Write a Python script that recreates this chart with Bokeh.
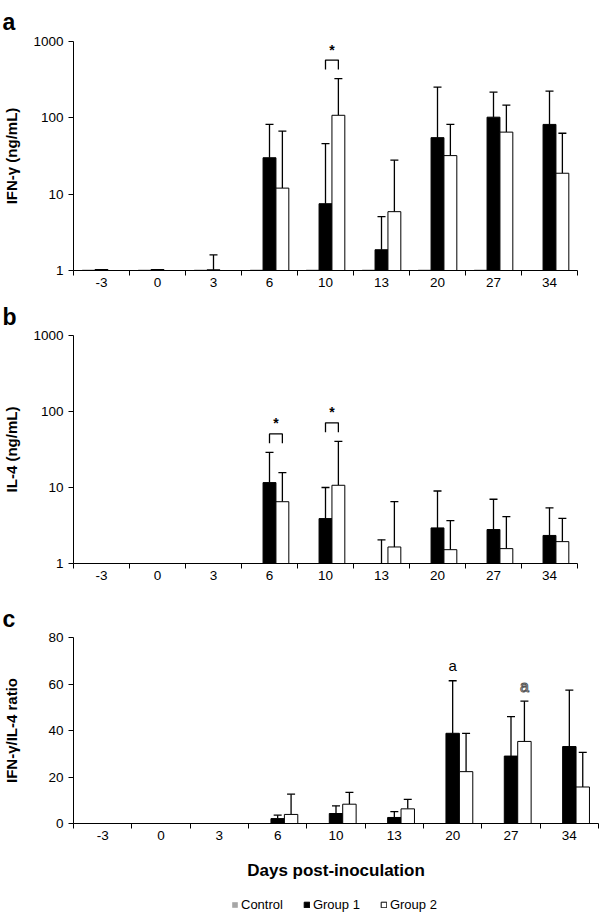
from bokeh.plotting import figure
from bokeh.models import (ColumnDataSource, FixedTicker, Range1d, Whisker, TeeHead,
                          Legend, LegendItem, NumeralTickFormatter)
from bokeh.transform import dodge
from bokeh.layouts import column
from bokeh.embed import file_html
from bokeh.resources import INLINE
from bokeh.core.properties import value

FONT = "Liberation Sans"
NAN = float("nan")

days = ["-3", "0", "3", "6", "10", "13", "20", "27", "34"]
series_names = ["Control", "Group 1", "Group 2"]
series_fill = ["#a6a6a6", "black", "white"]
series_line = [None, "black", "black"]

# Panel a: IFN-gamma (ng/mL), log scale
ifn_ctrl = [1.03, 1.03, 1.03, 1.03, 1.03, 1.03, 1.03, 1.03, 1.0]
ifn_g1 = [1.03, 1.03, 1.02, 30, 7.5, 1.87, 55, 102, 82]
ifn_g1_sd = [None, None, 0.58, 52, 38.5, 3.2, 198, 115, 142]
ifn_g2 = [1.0, 1.0, 1.0, 12, 108, 5.9, 32, 65, 18.8]
ifn_g2_sd = [None, None, None, 55, 218, 22, 50, 82, 44]
ifn_sig_days = ["10"]

# Panel b: IL-4 (ng/mL), log scale
il4_ctrl = [1.0, 1.0, 1.0, 1.0, 1.0, 1.0, 1.0, 1.0, 1.0]
il4_g1 = [1.0, 1.0, 1.0, 11.6, 3.9, 0.96, 2.94, 2.8, 2.34]
il4_g1_sd = [None, None, None, 17.4, 6.1, 1.09, 6.06, 4.2, 3.06]
il4_g2 = [1.0, 1.0, 1.0, 6.5, 10.7, 1.65, 1.52, 1.57, 1.94]
il4_g2_sd = [None, None, None, 9.2, 29.8, 4.85, 2.15, 2.57, 1.99]
il4_sig_days = ["6", "10"]

# Panel c: IFN-gamma / IL-4 ratio
ratio_ctrl = [0, 0, 0, 0, 0, 0, 0, 0, 0]
ratio_g1 = [0, 0, 0, 2.1, 4.3, 2.6, 38.8, 29.0, 33.1]
ratio_g1_sd = [None, None, None, 1.5, 3.3, 2.5, 22.6, 17.0, 24.3]
ratio_g2 = [0, 0, 0, 3.9, 8.3, 6.3, 22.3, 35.3, 15.7]
ratio_g2_sd = [None, None, None, 8.7, 5.1, 4.1, 16.5, 17.3, 14.9]
ratio_mark_days = ["20", "27"]
ratio_mark_series = ["Group 1", "Group 2"]
ratio_mark_text = ["a", "a"]

log_ticks = [1, 10, 100, 1000]
ratio_ticks = [0, 20, 40, 60, 80]

W = 0.23
xi = list(range(len(days)))
offsets = {"Control": -W, "Group 1": 0.0, "Group 2": W}


def style_axes(p, ylabel, y_ticks, label_standoff):
    p.xgrid.visible = False
    p.ygrid.visible = False
    p.outline_line_color = None
    p.background_fill_color = "white"
    p.border_fill_color = "white"
    ax = p.xaxis[0]
    ax.ticker = FixedTicker(ticks=xi, minor_ticks=[i - 0.5 for i in xi] + [xi[-1] + 0.5])
    ax.major_label_overrides = {i: d for i, d in enumerate(days)}
    ax.major_tick_line_color = None
    ax.major_tick_out = 5
    ax.major_tick_in = 0
    ax.minor_tick_line_color = "black"
    ax.minor_tick_out = 5
    ax.minor_tick_in = 0
    ax.axis_line_color = "black"
    ax.major_label_standoff = 2
    ax.major_label_text_font = FONT
    ax.major_label_text_font_size = "13.5px"
    ax.major_label_text_color = "black"
    ay = p.yaxis[0]
    ay.ticker = FixedTicker(ticks=y_ticks)
    ay.formatter = NumeralTickFormatter(format="0")
    ay.minor_tick_line_color = None
    ay.major_tick_out = 5
    ay.major_tick_in = 0
    ay.major_tick_line_color = "black"
    ay.axis_line_color = "black"
    ay.major_label_standoff = 5
    ay.major_label_text_font = FONT
    ay.major_label_text_font_size = "13.5px"
    ay.major_label_text_color = "black"
    ay.axis_label = ylabel
    ay.axis_label_text_font = FONT
    ay.axis_label_text_font_size = "15px"
    ay.axis_label_text_font_style = "bold"
    ay.axis_label_text_color = "black"
    ay.axis_label_standoff = label_standoff


def style_letter(p, standoff):
    t = p.title
    t.align = "left"
    t.offset = -71
    t.standoff = standoff
    t.vertical_align = "bottom"
    t.text_font = FONT
    t.text_font_size = "23px"
    t.text_font_style = "bold"
    t.text_color = "black"


def draw_bars(p, ctrl, g1, g1sd, g2, g2sd, base):
    src = ColumnDataSource(dict(x=xi, ctrl=ctrl, g1=g1, g2=g2))
    for col, name, fc, lc in zip(["ctrl", "g1", "g2"], series_names, series_fill, series_line):
        p.vbar(x=dodge("x", offsets[name], range=p.x_range), top=col, bottom=base,
               width=W, fill_color=fc, line_color=lc, line_width=1, source=src)
    for name, vals, sds in (("Group 1", g1, g1sd), ("Group 2", g2, g2sd)):
        keep = [i for i, s in enumerate(sds) if s is not None]
        esrc = ColumnDataSource(dict(x=[xi[i] for i in keep],
                                     lo=[vals[i] for i in keep],
                                     hi=[vals[i] + sds[i] for i in keep]))
        p.add_layout(Whisker(source=esrc, base=dodge("x", offsets[name], range=p.x_range),
                             upper="hi", lower="lo", dimension="height",
                             upper_head=TeeHead(size=8, line_color="black", line_width=1.3),
                             lower_head=None, line_color="black", line_width=1.3))


def draw_sig(p, sig_days, g1, g1sd, g2, g2sd):
    for d in sig_days:
        i = days.index(d)
        top = max(g1[i] + (g1sd[i] or 0), g2[i] + (g2sd[i] or 0))
        yb = top * 1.75
        yl = yb / 1.33
        x1 = xi[i] + offsets["Group 1"]
        x2 = xi[i] + offsets["Group 2"]
        p.multi_line(xs=[[x1, x1, x2, x2]], ys=[[yl, yb, yb, yl]], line_color="black", line_width=1.3)
        p.text(x=[(x1 + x2) / 2], y=[yb * 1.08], text=["*"], text_align="center",
               text_baseline="bottom", text_font=value(FONT), text_font_size="14px",
               text_font_style="bold", text_color="black")


# ---------- panel a ----------
pa = figure(title="a", width=600, height=296, y_axis_type="log", x_range=Range1d(-0.5, 8.5),
            y_range=Range1d(1, 1000), output_backend="svg", toolbar_location=None,
            min_border_left=72, min_border_right=23, min_border_top=41, min_border_bottom=26)
style_letter(pa, 13)
style_axes(pa, "IFN-γ (ng/mL)", log_ticks, 10)
draw_bars(pa, ifn_ctrl, ifn_g1, ifn_g1_sd, ifn_g2, ifn_g2_sd, 1)
draw_sig(pa, ifn_sig_days, ifn_g1, ifn_g1_sd, ifn_g2, ifn_g2_sd)

# ---------- panel b ----------
pb = figure(title="b", width=600, height=296, y_axis_type="log", x_range=Range1d(-0.5, 8.5),
            y_range=Range1d(1, 1000), output_backend="svg", toolbar_location=None,
            min_border_left=72, min_border_right=23, min_border_top=37, min_border_bottom=29)
style_letter(pb, 11)
style_axes(pb, "IL-4 (ng/mL)", log_ticks, 10)
draw_bars(pb, il4_ctrl, il4_g1, il4_g1_sd, il4_g2, il4_g2_sd, 1)
draw_sig(pb, il4_sig_days, il4_g1, il4_g1_sd, il4_g2, il4_g2_sd)

# ---------- panel c ----------
pc = figure(title="c", width=600, height=293, x_range=Range1d(-0.5, 8.5), y_range=Range1d(0, 80),
            output_backend="svg", toolbar_location=None,
            min_border_left=72, min_border_right=2, min_border_top=45, min_border_bottom=62)
style_letter(pc, 12)
style_axes(pc, "IFN-γ/IL-4 ratio", ratio_ticks, 25)
pc.xaxis[0].axis_label = "Days post-inoculation"
pc.xaxis[0].axis_label_text_font = FONT
pc.xaxis[0].axis_label_text_font_size = "17px"
pc.xaxis[0].axis_label_text_font_style = "bold"
pc.xaxis[0].axis_label_text_color = "black"
pc.xaxis[0].axis_label_standoff = 18
draw_bars(pc, ratio_ctrl, ratio_g1, ratio_g1_sd, ratio_g2, ratio_g2_sd, 0)

series_vals = {"Group 1": (ratio_g1, ratio_g1_sd), "Group 2": (ratio_g2, ratio_g2_sd)}
for k, (d, s, t) in enumerate(zip(ratio_mark_days, ratio_mark_series, ratio_mark_text)):
    i = days.index(d)
    vals, sds = series_vals[s]
    xm = xi[i] + offsets[s]
    ym = vals[i] + sds[i] + 6.5
    if k == 0:
        pc.text(x=[xm], y=[ym], text=[t], text_align="center", text_baseline="middle",
                text_font=value(FONT), text_font_size="15px", text_color="black")
    else:
        pc.text(x=[xm], y=[ym], text=[t], text_align="center", text_baseline="middle",
                text_font=value(FONT), text_font_size="16px", text_color="#eeeeee",
                text_outline_color="#555555")

# ---------- legend strip (proxy renderers carry no drawable data) ----------
pl = figure(width=600, height=27, x_range=Range1d(0, 1), y_range=Range1d(0, 1),
            x_axis_location=None, y_axis_location=None, output_backend="svg",
            toolbar_location=None, min_border_left=72, min_border_right=2,
            min_border_top=0, min_border_bottom=0)
pl.xgrid.visible = False
pl.ygrid.visible = False
pl.outline_line_color = None
items = []
for name, fc, lc in zip(series_names, series_fill, series_line):
    r = pl.vbar(x=[NAN], top=[NAN], bottom=[NAN], width=0.1, fill_color=fc, line_color=lc,
                line_width=1)
    items.append(LegendItem(label=name, renderers=[r]))
legend = Legend(items=items, orientation="horizontal", location=(158, 0),
                glyph_width=7, glyph_height=7, label_height=15, label_standoff=3, spacing=20,
                padding=0, margin=0, border_line_color=None, background_fill_alpha=0,
                label_text_font=FONT, label_text_font_size="13px", label_text_color="black")
pl.add_layout(legend)

layout = column(column(pa, pb, spacing=0), column(pc, pl, spacing=0), spacing=0)
open("out.html", "w").write(file_html(layout, INLINE))
